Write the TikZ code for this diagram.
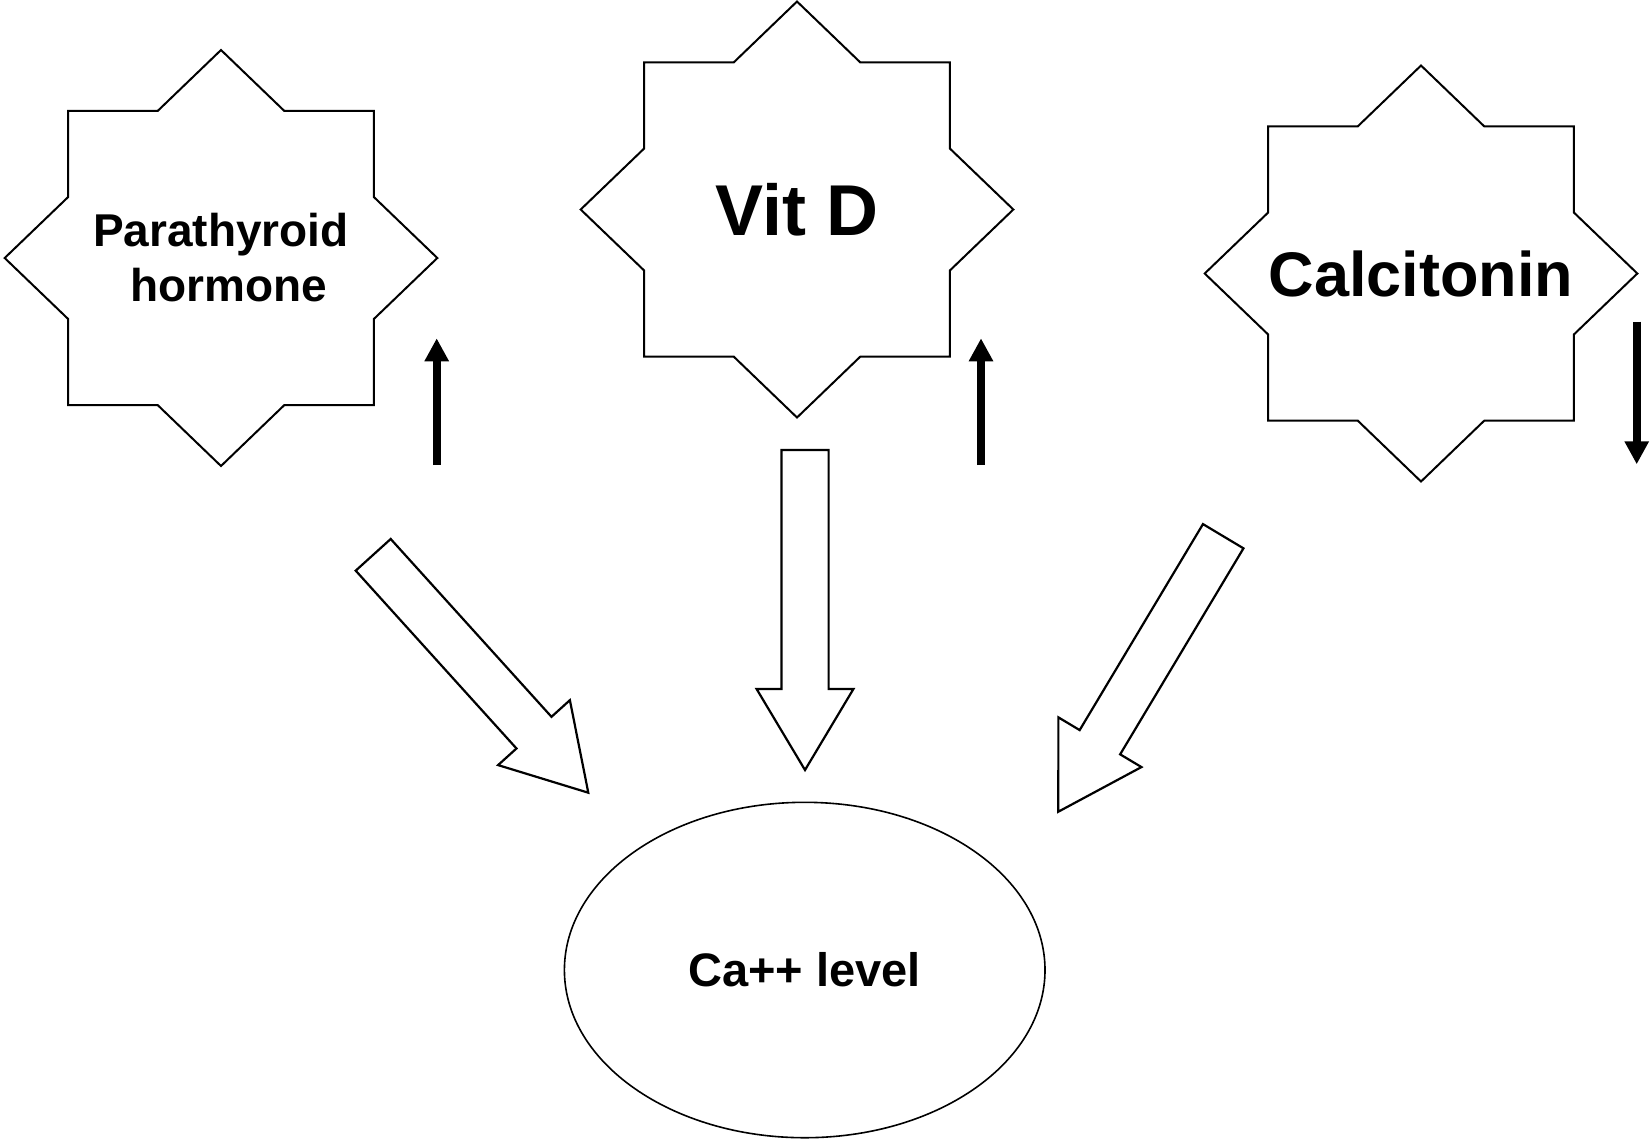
\documentclass[tikz,border=0pt]{standalone}
\usepackage{fontspec}
\setmainfont{Liberation Sans}
\usetikzlibrary{shapes.geometric,arrows.meta,calc}

\tikzset{
  seal/.style={draw, line width=1pt, star, star points=8, star point ratio=1.307,
    minimum size=208pt, inner sep=0pt, xscale=1.04, transform shape},
  tag/.style={font=\fontsize{#1}{27.5}\selectfont\bfseries, align=center, inner sep=0pt},
  level/.style={draw, line width=0.8pt, ellipse, minimum width=240.3pt,
    minimum height=167.7pt, inner sep=0pt},
  hollow/.style={draw, line width=1.1pt},
  change/.style={line width=4pt, -{Triangle[width=11.5pt,length=11.5pt]}},
}

% broad outlined arrow from #1 to #2, head length #3
\newcommand{\hollowarrow}[3]{%
  \coordinate (hb) at ($(#2)!#3!(#1)$);
  \draw[hollow] ($(#1)!11.8pt!90:(#2)$)
    -- ($(hb)!11.8pt!90:(#2)$) -- ($(hb)!24.2pt!90:(#2)$)
    -- (#2)
    -- ($(hb)!24.2pt!-90:(#2)$) -- ($(hb)!11.8pt!-90:(#2)$)
    -- ($(#1)!11.8pt!-90:(#2)$) -- cycle;
}

\begin{document}
\begin{tikzpicture}[x=0.5pt,y=-0.5pt]
    \useasboundingbox (0,0) rectangle (1652,1142);

    \node[seal, label={[tag=23]center:Parathyroid\\\hspace*{8pt}hormone}] (pth) at (221,258) {};
    \node[seal, label={[tag=36]center:Vit D}] (vitd) at (797,209.5) {};
    \node[seal, label={[tag=31.5]center:Calcitonin}] (ctn) at (1421,273.5) {};
    \node[level, tag=23.5] (ca) at (804.7,970) {Ca++ level};

    % up / down trends
    \coordinate (pthlo) at (436.7,465);
    \coordinate (pthhi) at (436.7,338.3);
    \coordinate (vitdlo) at (981,465);
    \coordinate (vitdhi) at (981,338.3);
    \coordinate (ctnhi) at (1636.7,321.7);
    \coordinate (ctnlo) at (1636.7,464.3);
    \draw[change] (pthlo) -- (pthhi);
    \draw[change] (vitdlo) -- (vitdhi);
    \draw[change] (ctnhi) -- (ctnlo);

    % effect on the calcium level
    \coordinate (pthtail) at (373.2,554.8);
    \coordinate (pthtip) at (588.3,792.7);
    \coordinate (vitdtail) at (805,450);
    \coordinate (vitdtip) at (805,770);
    \coordinate (ctntail) at (1223.2,536.2);
    \coordinate (ctntip) at (1058.3,811.7);
    \hollowarrow{pthtail}{pthtip}{40.5pt}
    \hollowarrow{vitdtail}{vitdtip}{40.5pt}
    \hollowarrow{ctntail}{ctntip}{40.5pt}
\end{tikzpicture}
\end{document}
